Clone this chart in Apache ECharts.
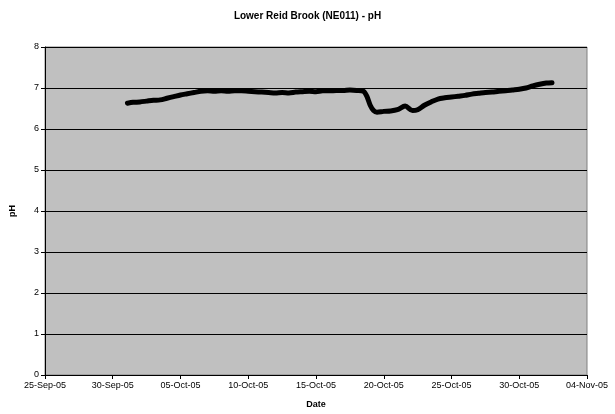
<!DOCTYPE html>
<html>
<head>
<meta charset="utf-8">
<script src="https://cdn.jsdelivr.net/npm/echarts@6/dist/echarts.min.js"></script>
<style>html,body{margin:0;padding:0;background:#fff}#c{width:615px;height:414px}</style>
</head>
<body>
<div id="c"></div>
<script>
var titleText = "Lower Reid Brook (NE011) - pH";
var xAxisName = "Date";
var yAxisName = "pH";
var axisStart = "2005-09-25T00:00:00Z";
var axisEnd = "2005-11-04T00:00:00Z";
var tickDays = 5;
var months = ["Jan","Feb","Mar","Apr","May","Jun","Jul","Aug","Sep","Oct","Nov","Dec"];

var times = [
"2005-10-01T02:00","2005-10-01T12:00","2005-10-02T00:00","2005-10-02T12:00","2005-10-03T00:00","2005-10-03T12:00",
"2005-10-04T00:00","2005-10-04T12:00","2005-10-05T00:00","2005-10-05T12:00","2005-10-06T00:00","2005-10-06T12:00",
"2005-10-07T00:00","2005-10-07T12:00","2005-10-08T00:00","2005-10-08T12:00","2005-10-09T00:00","2005-10-09T12:00",
"2005-10-10T00:00","2005-10-10T12:00","2005-10-11T00:00","2005-10-11T12:00","2005-10-12T00:00","2005-10-12T12:00",
"2005-10-13T00:00","2005-10-13T12:00","2005-10-14T00:00","2005-10-14T12:00","2005-10-15T00:00","2005-10-15T12:00",
"2005-10-16T00:00","2005-10-16T12:00","2005-10-17T00:00","2005-10-17T12:00","2005-10-18T00:00","2005-10-18T12:00",
"2005-10-18T18:00","2005-10-19T00:00","2005-10-19T06:00","2005-10-19T12:00","2005-10-20T00:00","2005-10-20T12:00",
"2005-10-21T00:00","2005-10-21T14:00","2005-10-22T03:00","2005-10-22T12:00","2005-10-23T00:00","2005-10-23T12:00",
"2005-10-24T00:00","2005-10-24T12:00","2005-10-25T00:00","2005-10-25T12:00","2005-10-26T00:00","2005-10-26T12:00",
"2005-10-27T00:00","2005-10-27T12:00","2005-10-28T00:00","2005-10-28T12:00","2005-10-29T00:00","2005-10-29T12:00",
"2005-10-30T00:00","2005-10-30T12:00","2005-10-31T00:00","2005-10-31T12:00","2005-11-01T00:00","2005-11-01T10:00"
];
var phValues = [
6.63,6.65,6.66,6.68,6.70,6.71,
6.75,6.79,6.83,6.86,6.89,6.92,
6.93,6.92,6.93,6.92,6.93,6.93,
6.92,6.91,6.90,6.89,6.88,6.89,
6.88,6.90,6.91,6.92,6.91,6.93,
6.93,6.94,6.94,6.95,6.94,6.92,
6.80,6.58,6.45,6.41,6.43,6.44,
6.47,6.56,6.45,6.47,6.58,6.66,
6.73,6.76,6.78,6.80,6.82,6.85,
6.87,6.89,6.90,6.92,6.93,6.95,
6.97,7.00,7.05,7.09,7.12,7.13
];

var DAY = 86400000;
var base = Date.parse(axisStart);
var seriesData = times.map(function (t, i) {
  return [(Date.parse(t + ":00Z") - base) / DAY, phValues[i]];
});
function fmtDay(v) {
  var d = new Date(base + Math.round(v) * DAY);
  var dd = ("0" + d.getUTCDate()).slice(-2);
  var yy = ("0" + (d.getUTCFullYear() % 100)).slice(-2);
  return dd + "-" + months[d.getUTCMonth()] + "-" + yy;
}

var chart = echarts.init(document.getElementById("c"), null, {renderer: "canvas"});
chart.setOption({
  animation: false,
  backgroundColor: "#ffffff",
  title: {
    text: titleText, left: "center", top: 6,
    textStyle: {fontFamily: "Liberation Sans", fontSize: 10, fontWeight: "bold", color: "#000"}
  },
  grid: {
    left: 43, right: 28, top: 47, bottom: 36,
    show: true, backgroundColor: "#c0c0c0", borderColor: "#808080", borderWidth: 1
  },
  xAxis: {
    type: "value",
    min: 0, max: (Date.parse(axisEnd) - base) / DAY, interval: tickDays,
    name: xAxisName, nameLocation: "middle", nameGap: 25,
    nameTextStyle: {fontFamily: "Liberation Sans", fontSize: 9, fontWeight: "bold", color: "#000"},
    axisLine: {show: true, onZero: false, lineStyle: {color: "#000", width: 1}},
    axisTick: {show: true, length: 4, lineStyle: {color: "#000"}},
    axisLabel: {formatter: fmtDay, fontFamily: "Liberation Sans", fontSize: 9, color: "#000", margin: 6},
    splitLine: {show: false}
  },
  yAxis: {
    type: "value", min: 0, max: 8, interval: 1,
    name: yAxisName, nameLocation: "middle", nameGap: 28, nameRotate: 90,
    nameTextStyle: {fontFamily: "Liberation Sans", fontSize: 9, fontWeight: "bold", color: "#000"},
    axisLine: {show: true, lineStyle: {color: "#000", width: 1}},
    axisTick: {show: true, length: 4, lineStyle: {color: "#000"}},
    axisLabel: {fontFamily: "Liberation Sans", fontSize: 9, color: "#000", margin: 6},
    splitLine: {show: true, lineStyle: {color: "#000", width: 1}}
  },
  series: [{
    type: "line",
    data: seriesData,
    showSymbol: false,
    smooth: 0.3,
    lineStyle: {color: "#000", width: 5, cap: "round", join: "round"},
    itemStyle: {color: "#000"}
  }]
});
</script>
</body>
</html>
